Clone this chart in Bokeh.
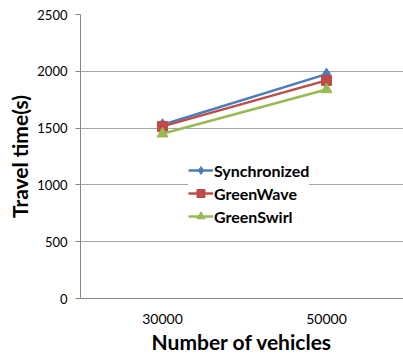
from bokeh.plotting import figure
from bokeh.models import Legend, LegendItem, FixedTicker, Range1d
from bokeh.embed import file_html
from bokeh.resources import INLINE

# Average travel time versus traffic volume
categories = ["30000", "50000"]
synchronized = [1530, 1975]
greenwave = [1515, 1920]
greenswirl = [1450, 1840]
y_ticks = [0, 500, 1000, 1500, 2000, 2500]

xs = list(range(len(categories)))

p = figure(width=403, height=356, output_backend="svg", toolbar_location=None,
           x_range=Range1d(-0.5, 1.4695), y_range=Range1d(0, 2500),
           min_border_left=80, min_border_right=0, min_border_top=14,
           min_border_bottom=58)
p.outline_line_color = None
p.background_fill_color = "white"
p.border_fill_color = "white"

FONT = "Lato"

# x axis: one tick per category
p.xaxis.ticker = FixedTicker(ticks=xs)
p.xaxis.major_label_overrides = {i: c for i, c in enumerate(categories)}
p.xaxis.major_tick_line_color = None
p.xaxis.minor_tick_line_color = None
p.xaxis.axis_line_color = "#868686"
p.xaxis.major_label_text_font = FONT
p.xaxis.major_label_text_font_size = "14px"
p.xaxis.major_label_text_color = "#000000"
p.xaxis.major_label_standoff = 9
p.xaxis.axis_label = "Number of vehicles"
p.xaxis.axis_label_text_font = FONT
p.xaxis.axis_label_text_font_size = "21px"
p.xaxis.axis_label_text_font_style = "bold"
p.xaxis.axis_label_text_color = "#000000"
p.xaxis.axis_label_standoff = 2

# y axis
p.yaxis.ticker = FixedTicker(ticks=y_ticks)
p.yaxis.minor_tick_line_color = None
p.yaxis.axis_line_color = "#868686"
p.yaxis.major_tick_line_color = "#868686"
p.yaxis.major_tick_out = 5
p.yaxis.major_tick_in = 0
p.yaxis.major_label_text_font = FONT
p.yaxis.major_label_text_font_size = "13px"
p.yaxis.major_label_text_color = "#000000"
p.yaxis.major_label_standoff = 8
p.yaxis.axis_label = "Travel time(s)"
p.yaxis.axis_label_text_font = FONT
p.yaxis.axis_label_text_font_size = "21px"
p.yaxis.axis_label_text_font_style = "bold"
p.yaxis.axis_label_text_color = "#000000"
p.yaxis.axis_label_standoff = 2

p.xgrid.grid_line_color = None
p.ygrid.ticker = FixedTicker(ticks=y_ticks)
p.ygrid.grid_line_color = "#A6A6A6"
p.ygrid.grid_line_width = 1

BLUE = "#4A7EBB"
RED = "#BE4B48"
GREEN = "#98B954"

l1 = p.line(xs, synchronized, line_color=BLUE, line_width=2.5)
m1 = p.scatter(xs, synchronized, marker="diamond", size=12, fill_color=BLUE, line_color=BLUE)
l2 = p.line(xs, greenwave, line_color=RED, line_width=2.5)
m2 = p.scatter(xs, greenwave, marker="square", size=10, fill_color=RED, line_color=RED)
l3 = p.line(xs, greenswirl, line_color=GREEN, line_width=2.5)
m3 = p.scatter(xs, greenswirl, marker="triangle", size=11, fill_color=GREEN, line_color=GREEN)

legend = Legend(items=[
    LegendItem(label="Synchronized", renderers=[l1, m1]),
    LegendItem(label="GreenWave", renderers=[l2, m2]),
    LegendItem(label="GreenSwirl", renderers=[l3, m3]),
], location=(108, 72))
legend.border_line_color = None
legend.background_fill_color = "white"
legend.background_fill_alpha = 1.0
legend.label_text_font = FONT
legend.label_text_font_size = "16px"
legend.label_text_font_style = "bold"
legend.label_text_color = "#000000"
legend.glyph_width = 25
legend.glyph_height = 20
legend.label_height = 20
legend.label_standoff = 1
legend.spacing = 3
legend.padding = 10
legend.margin = 0
p.add_layout(legend, "center")

open("out.html", "w").write(file_html(p, INLINE))
